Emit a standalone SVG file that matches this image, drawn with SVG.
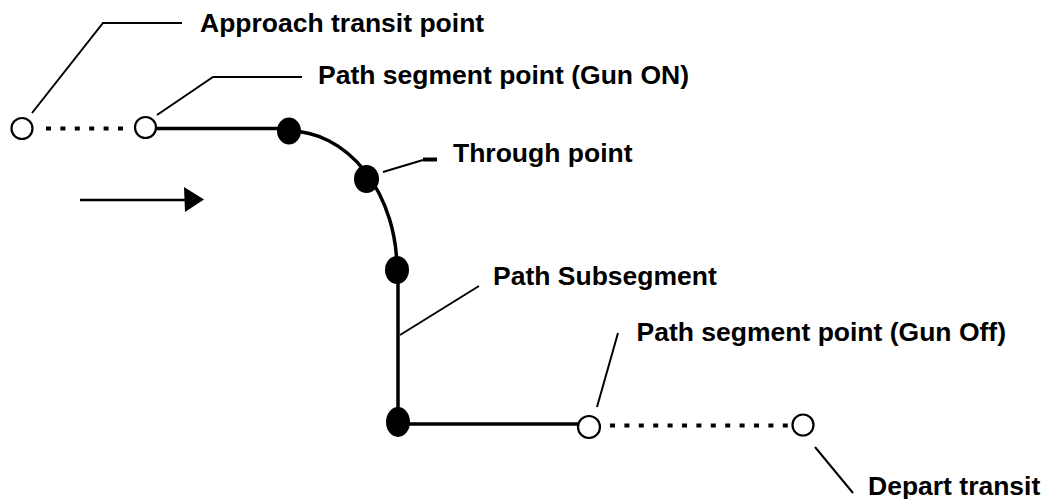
<svg xmlns="http://www.w3.org/2000/svg" width="1043" height="499" viewBox="0 0 1043 499">
  <style>
    .label { font-family: "Liberation Sans", Arial, sans-serif; font-weight: bold; font-size: 26.5px; fill: #000; }
    .path { fill: none; stroke: #000; stroke-width: 3.5; }
    .dotted { fill: none; stroke: #000; stroke-width: 4; stroke-dasharray: 5 9.4; }
    .leader { fill: none; stroke: #000; stroke-width: 2; }
    .open { fill: #fff; stroke: #000; stroke-width: 2.2; }
    .solid { fill: #000; stroke: none; }
  </style>

  <g id="connectors">
    <!-- transit runs (dotted) -->
    <line class="dotted" x1="46" y1="128.5" x2="127" y2="128.5"/>
    <line class="dotted" x1="610" y1="425.5" x2="790" y2="425.5"/>
    <!-- path segment -->
    <line class="path" x1="157" y1="128.5" x2="289" y2="128.5"/>
    <path class="path" d="M289,131 A108,139 0 0 1 397,270"/>
    <line class="path" x1="398" y1="270" x2="398" y2="424"/>
    <line class="path" x1="398" y1="424" x2="578" y2="424"/>
    <!-- direction arrow -->
    <line x1="80" y1="200" x2="188" y2="200" stroke="#000" stroke-width="2.6"/>
    <polygon points="184,187 204,199.5 185,212" fill="#000"/>
    <!-- label leaders -->
    <polyline class="leader" points="32,113 103,23 182,23"/>
    <polyline class="leader" points="157,115 213,77 302,77"/>
    <polyline class="leader" points="383,172 423,160"/>
    <line x1="423" y1="159.5" x2="437" y2="159.5" stroke="#000" stroke-width="4"/>
    <line class="leader" x1="400" y1="335" x2="479" y2="286"/>
    <line class="leader" x1="597" y1="407" x2="618" y2="333"/>
    <line class="leader" x1="815" y1="447" x2="853" y2="493"/>
  </g>

  <g id="approach-transit-point">
    <circle class="open" cx="22" cy="128.5" r="10.5"/>
    <text class="label" x="200" y="31.5">Approach transit point</text>
  </g>

  <g id="gun-on-point">
    <circle class="open" cx="145.5" cy="127.5" r="10.5"/>
    <text class="label" x="318" y="84">Path segment point (Gun ON)</text>
  </g>

  <g id="arc-start-point">
    <ellipse class="solid" cx="289" cy="131" rx="12" ry="13.5"/>
  </g>

  <g id="through-point">
    <ellipse class="solid" cx="366.5" cy="179" rx="12.5" ry="14"/>
    <text class="label" x="453" y="161.5">Through point</text>
  </g>

  <g id="arc-end-point">
    <ellipse class="solid" cx="397" cy="270" rx="12" ry="14"/>
  </g>

  <g id="path-subsegment">
    <text class="label" x="493" y="285">Path Subsegment</text>
  </g>

  <g id="corner-point">
    <ellipse class="solid" cx="398" cy="422" rx="12" ry="15"/>
  </g>

  <g id="gun-off-point">
    <circle class="open" cx="589" cy="427" r="11"/>
    <text class="label" x="636.5" y="340.5">Path segment point (Gun Off)</text>
  </g>

  <g id="depart-transit-point">
    <circle class="open" cx="803" cy="425" r="10.5"/>
    <text class="label" x="868" y="495">Depart transit</text>
  </g>
</svg>
